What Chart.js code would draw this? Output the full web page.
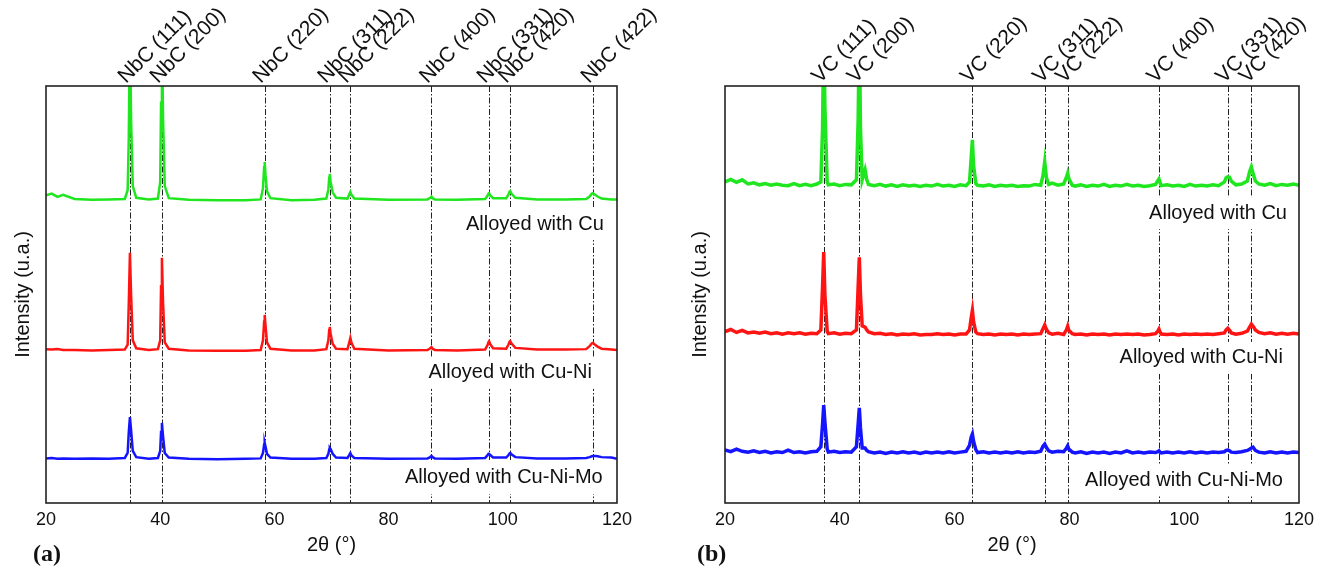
<!DOCTYPE html>
<html>
<head>
<meta charset="utf-8">
<script src="https://cdn.jsdelivr.net/npm/chart.js@4.4.1/dist/chart.umd.min.js"></script>
<style>
  body { margin: 0; background: #fff; }
  #wrap { position: relative; width: 1328px; height: 569px; }
  canvas { position: absolute; top: 0; }
  #nbc { left: 0; }
  #vc { left: 664px; }
</style>
</head>
<body>
<div id="wrap">
  <canvas id="nbc" width="664" height="569"></canvas>
  <canvas id="vc" width="664" height="569"></canvas>
</div>
<script>
// ---- data (intensity in arbitrary, stacked units) ----
const sampleNames = ['Alloyed with Cu', 'Alloyed with Cu-Ni', 'Alloyed with Cu-Ni-Mo'];

// (a) NbC
const nbcPeaks = [34.7, 40.3, 58.3, 69.7, 73.3, 87.5, 97.6, 101.3, 115.8];
const nbcPeakLabels = ['NbC (111)', 'NbC (200)', 'NbC (220)', 'NbC (311)', 'NbC (222)', 'NbC (400)', 'NbC (331)', 'NbC (420)', 'NbC (422)'];
const nbcTheta = [
  20, 21, 22, 23, 25, 28, 31, 33.8,
  34.3, 34.5, 34.7, 34.9, 35.2, 35.8,
  38, 39.6,
  40.0, 40.15, 40.3, 40.5, 40.8, 41.5,
  45, 50, 55, 57.6,
  58.0, 58.2, 58.3, 58.45, 58.7, 59.3,
  63, 67, 69.1,
  69.45, 69.6, 69.7, 69.85, 70.2, 70.8,
  72.8,
  73.1, 73.3, 73.5, 74.0,
  80, 86.8,
  87.3, 87.5, 87.7, 88.1,
  92, 96.9,
  97.3, 97.5, 97.6, 97.8, 98.3,
  100.6,
  101.0, 101.2, 101.3, 101.5, 102.2,
  106, 111, 114.6,
  115.2, 115.6, 115.8, 116.1, 116.6, 117.3,
  119, 120
];
const nbcCu = [
  73.8, 74.2, 73.4, 73.9, 72.9, 72.7, 72.8, 72.9,
  75, 88, 115, 92, 76, 73.2,
  72.8, 73.0,
  77, 96, 115, 92, 76, 73.1,
  72.7, 72.6, 72.6, 72.8,
  75.5, 80.5, 81.8, 78.5, 74.8, 73.1,
  72.6, 72.7, 73.0,
  75.2, 78.0, 78.9, 77.0, 74.5, 73.2,
  73.0,
  74.0, 74.6, 73.9, 73.0,
  72.7, 72.8,
  73.2, 73.5, 73.1, 72.8,
  72.7, 72.9,
  73.6, 74.2, 74.3, 73.8, 73.1,
  73.1,
  74.0, 74.7, 74.8, 74.2, 73.2,
  72.8, 72.8, 72.9,
  73.5, 74.2, 74.3, 74.0, 73.5, 73.0,
  72.8, 72.8
];
const nbcCuNi = [
  36.9, 36.8, 36.9, 36.7, 36.7, 36.6, 36.7, 36.8,
  38, 48, 60.0, 50, 39, 37.1,
  36.7, 36.9,
  39, 52, 58.8, 48, 38.5, 37.0,
  36.6, 36.5, 36.5, 36.7,
  39, 43.5, 45.1, 42.5, 38.5, 37.0,
  36.6, 36.6, 36.9,
  39.0, 41.5, 42.2, 40.6, 38.2, 37.0,
  36.9,
  38.5, 39.6, 38.4, 37.0,
  36.6, 36.7,
  37.1, 37.4, 37.0, 36.7,
  36.6, 36.8,
  37.8, 38.6, 38.8, 38.1, 37.1,
  37.0,
  38.0, 38.7, 38.8, 38.3, 37.2,
  36.8, 36.8, 36.9,
  37.6, 38.3, 38.4, 38.0, 37.5, 37.0,
  36.8, 36.7
];
const nbcCuNiMo = [
  10.7, 10.8, 10.6, 10.7, 10.6, 10.7, 10.6, 10.8,
  12.0, 17.0, 20.6, 17.5, 12.5, 11.0,
  10.6, 10.8,
  12.5, 17.0, 19.2, 16.0, 12.0, 10.9,
  10.6, 10.5, 10.6, 10.7,
  12.0, 14.0, 14.4, 13.5, 11.8, 10.9,
  10.6, 10.6, 10.8,
  11.8, 12.8, 13.2, 12.9, 11.8, 10.9,
  10.8,
  11.5, 12.0, 11.4, 10.8,
  10.6, 10.7,
  11.0, 11.3, 11.0, 10.7,
  10.6, 10.8,
  11.4, 11.8, 11.8, 11.5, 10.9,
  10.9,
  11.5, 11.9, 12.0, 11.7, 11.0,
  10.7, 10.7, 10.8,
  11.0, 11.2, 11.3, 11.3, 11.2, 11.0,
  10.9, 10.6
];

// (b) VC
const vcPeaks = [37.2, 43.4, 63.1, 75.7, 79.7, 95.6, 107.6, 111.7];
const vcPeakLabels = ['VC (111)', 'VC (200)', 'VC (220)', 'VC (311)', 'VC (222)', 'VC (400)', 'VC (331)', 'VC (420)'];
const vcTheta = [
  20, 21, 22, 23, 24, 25, 26, 27, 28, 29, 30, 31, 32, 33, 34, 35, 36,
  36.7, 37.0, 37.2, 37.4, 37.8,
  38, 39, 40, 41, 42,
  42.9, 43.2, 43.4, 43.6, 43.9,
  44.4, 44.7, 45,
  46, 47, 48, 49, 50, 51, 52, 53, 54, 55, 56, 57, 58, 59, 60, 61, 62,
  62.6, 62.9, 63.1, 63.3, 63.7,
  64, 65, 66, 67, 68, 69, 70, 71, 72, 73, 74, 75,
  75.4, 75.7, 76.0, 76.4,
  77, 78, 79,
  79.5, 79.7, 79.9, 80.5,
  81, 82, 83, 84, 85, 86, 87, 88, 89, 90, 91, 92, 93, 94, 95,
  95.4, 95.6, 95.8,
  96, 97, 98, 99, 100, 101, 102, 103, 104, 105, 106, 107,
  107.3, 107.6, 107.9, 108.2,
  109, 110, 111,
  111.4, 111.7, 112.0, 112.4,
  113, 114, 115, 116, 117, 118, 119, 120
];
const vcCu = [
  77.0, 77.6, 76.9, 77.5, 76.5, 76.8, 76.3, 76.6, 76.2, 76.5, 76.2, 76.1, 76.6, 76.1, 76.4, 76.1, 76.5,
  77.0, 90, 115, 95, 77.0,
  76.3, 76.5, 76.1, 76.4, 76.3,
  77.5, 92, 115, 90, 77.5,
  79.9, 77.5, 76.4,
  76.1, 76.4, 76.0, 76.3, 75.9, 76.3, 76.0, 76.2, 75.9, 76.2, 76.0, 76.4, 76.0, 76.2, 75.9, 76.3, 76.1,
  77.0, 83, 87.1, 81, 76.6,
  76.2, 76.0, 76.3, 75.9, 76.2, 76.0, 76.2, 75.9, 76.1, 76.0, 76.4, 76.2,
  78.5, 81.8, 78.0, 76.4,
  76.7, 76.2, 76.5,
  78.2, 79.1, 77.8, 76.2,
  76.0, 76.3, 75.9, 76.2, 76.0, 76.4, 75.9, 76.2, 76.0, 76.4, 76.0, 76.2, 75.9, 76.1, 76.4,
  77.3, 77.7, 76.8,
  76.1, 76.3, 76.0, 76.2, 75.9, 76.4, 76.0, 76.2, 76.0, 76.3, 76.1, 77.0,
  78.0, 78.2, 78.1, 77.2,
  76.3, 76.5, 77.2,
  79.5, 80.6, 79.0, 77.2,
  76.5, 76.2, 76.6, 76.1, 76.4, 76.2, 76.5, 76.2
];
const vcCuNi = [
  41.1, 41.6, 40.9, 41.4, 40.8, 41.0, 40.7, 41.0, 40.6, 40.8, 40.5, 40.8, 40.6, 40.8, 40.5, 40.7, 40.6,
  41.5, 52, 60.2, 50, 41.2,
  40.6, 40.8, 40.5, 40.7, 40.6,
  41.5, 52, 58.9, 50, 42.5,
  42.2, 41.5, 41.0,
  40.6, 40.7, 40.4, 40.6, 40.3, 40.5, 40.4, 40.6, 40.3, 40.4, 40.4, 40.6, 40.4, 40.5, 40.3, 40.5, 40.5,
  41.5, 44.5, 46.2, 43.5, 41.0,
  40.6, 40.4, 40.5, 40.3, 40.5, 40.4, 40.5, 40.3, 40.5, 40.4, 40.5, 40.6,
  41.8, 42.7, 41.6, 40.8,
  40.5, 40.7, 40.4,
  41.6, 42.4, 41.4, 40.6,
  40.4, 40.5, 40.3, 40.5, 40.4, 40.5, 40.3, 40.5, 40.4, 40.5, 40.4, 40.5, 40.3, 40.4, 40.6,
  41.2, 41.7, 41.0,
  40.5, 40.4, 40.5, 40.3, 40.5, 40.4, 40.5, 40.4, 40.5, 40.4, 40.6, 40.8,
  41.5, 41.9, 41.4, 40.8,
  40.5, 40.7, 41.2,
  42.2, 42.9, 42.4, 41.5,
  40.9, 40.6, 40.8, 40.5, 40.7, 40.5, 40.7, 40.5
];
const vcCuNiMo = [
  12.7, 12.3, 12.9, 12.4, 12.2, 12.5, 12.1, 12.4, 12.0, 12.3, 12.1, 12.7, 12.1, 12.3, 12.0, 12.3, 12.4,
  13.5, 19, 23.5, 19.5, 13.0,
  12.2, 12.4, 12.1, 12.3, 12.2,
  13.5, 19, 22.8, 18, 13.2,
  13.2, 12.6, 12.3,
  12.0, 12.2, 11.9, 12.2, 12.0, 12.3, 12.0, 12.2, 11.9, 12.2, 12.0, 12.2, 12.0, 12.3, 12.0, 12.2, 12.4,
  13.8, 15.8, 16.5, 14.8, 12.8,
  12.1, 12.3, 12.0, 12.2, 12.0, 12.2, 12.0, 12.3, 12.0, 12.2, 12.1, 12.4,
  13.6, 14.1, 13.3, 12.5,
  12.2, 12.4, 12.3,
  13.2, 13.7, 12.9, 12.2,
  12.0, 12.3, 11.9, 12.2, 12.0, 12.2, 11.9, 12.2, 12.0, 12.5, 12.0, 12.2, 12.0, 12.2, 12.1,
  12.3, 12.5, 12.2,
  12.0, 12.2, 12.0, 12.2, 12.0, 12.3, 12.0, 12.2, 12.0, 12.2, 12.1, 12.3,
  12.6, 12.7, 12.5, 12.2,
  12.1, 12.3, 12.6,
  12.9, 13.2, 13.4, 12.6,
  12.2, 12.0, 12.3, 12.0, 12.2, 12.0, 12.2, 12.1
];

const xTicks = [20, 40, 60, 80, 100, 120];
const colors = ['#1fe61f', '#ff1414', '#1414ff'];
const FONT = '"Liberation Sans", Arial, sans-serif';

function toPoints(theta, vals) {
  return theta.map((t, i) => ({ x: t, y: vals[i] }));
}

// dashed reference lines, sample captions, frame, rotated peak labels, panel letter
const xrdDecor = {
  id: 'xrdDecor',
  beforeDatasetsDraw(chart, args, opts) {
    const { ctx, chartArea: a, scales: { x, y } } = chart;
    ctx.save();
    ctx.strokeStyle = '#222';
    ctx.lineWidth = 1;
    ctx.setLineDash([6, 2, 1.5, 2]);
    opts.peaks.forEach(p => {
      const px = Math.round(x.getPixelForValue(p)) + 0.5;
      ctx.beginPath();
      ctx.moveTo(px, a.top);
      ctx.lineTo(px, a.bottom);
      ctx.stroke();
    });
    ctx.setLineDash([]);
    ctx.font = '20px ' + FONT;
    ctx.textAlign = 'right';
    ctx.textBaseline = 'middle';
    opts.captions.forEach((c, i) => {
      const txt = sampleNames[i];
      const w = ctx.measureText(txt).width;
      const tx = x.getPixelForValue(c.x), ty = y.getPixelForValue(c.y);
      ctx.fillStyle = '#fff';
      ctx.fillRect(tx - w - 6, ty - 16, w + 12, 32);
      ctx.fillStyle = '#111';
      ctx.fillText(txt, tx, ty);
    });
    ctx.restore();
  },
  afterDatasetsDraw(chart, args, opts) {
    const { ctx, chartArea: a, scales: { x } } = chart;
    ctx.save();
    ctx.strokeStyle = '#222';
    ctx.lineWidth = 1.6;
    ctx.strokeRect(a.left, a.top, a.right - a.left, a.bottom - a.top);
    ctx.fillStyle = '#111';
    ctx.font = '21px ' + FONT;
    ctx.textAlign = 'left';
    ctx.textBaseline = 'alphabetic';
    opts.peaks.forEach((p, i) => {
      const px = x.getPixelForValue(p);
      ctx.save();
      ctx.translate(px - 4, a.top - 2);
      ctx.rotate(-Math.PI / 4);
      ctx.fillText(opts.labels[i], 0, 0);
      ctx.restore();
    });
    ctx.font = 'bold 24px "Liberation Serif", "Times New Roman", serif';
    ctx.textBaseline = 'middle';
    ctx.fillText(opts.letter, 33, 555);
    ctx.restore();
  }
};

function makeChart(id, theta, series, peaks, labels, captions, letter, yWidth, yTitlePad, rightPad, lineW) {
  return new Chart(document.getElementById(id), {
    type: 'line',
    data: {
      datasets: series.map((s, i) => ({
        data: toPoints(theta, s),
        borderColor: colors[i],
        borderWidth: lineW,
        pointRadius: 0,
        tension: 0,
        fill: false
      }))
    },
    options: {
      responsive: false,
      animation: false,
      devicePixelRatio: 1,
      layout: { padding: { left: 0, right: rightPad, top: 86, bottom: 0 } },
      plugins: {
        legend: { display: false },
        tooltip: { enabled: false },
        xrdDecor: { peaks: peaks, labels: labels, captions: captions, letter: letter }
      },
      scales: {
        x: {
          type: 'linear', min: 20, max: 120,
          afterBuildTicks: s => { s.ticks = xTicks.map(v => ({ value: v })); },
          afterFit: s => { s.height = 66; },
          grid: { display: false, drawTicks: false },
          border: { display: false },
          ticks: { color: '#111', font: { size: 18, family: FONT }, padding: 6, maxRotation: 0 },
          title: { display: true, text: '2θ (°)', color: '#111', font: { size: 20, family: FONT }, padding: { top: 0, bottom: 12 } }
        },
        y: {
          min: 0, max: 100,
          afterFit: s => { s.width = yWidth; },
          grid: { display: false, drawTicks: false },
          border: { display: false },
          ticks: { display: false },
          title: { display: true, text: 'Intensity (u.a.)', color: '#111', font: { size: 20, family: FONT }, padding: { top: yTitlePad, bottom: 0 } }
        }
      }
    },
    plugins: [xrdDecor]
  });
}

makeChart('nbc', nbcTheta, [nbcCu, nbcCuNi, nbcCuNiMo], nbcPeaks, nbcPeakLabels,
  [{ x: 117.7, y: 66.9 }, { x: 115.6, y: 31.2 }, { x: 117.5, y: 6.0 }], '(a)', 46, 11, 47, 2.5);
makeChart('vc', vcTheta, [vcCu, vcCuNi, vcCuNiMo], vcPeaks, vcPeakLabels,
  [{ x: 117.9, y: 69.5 }, { x: 117.2, y: 34.8 }, { x: 117.2, y: 5.5 }], '(b)', 61, 24, 29, 3.5);
</script>
</body>
</html>
